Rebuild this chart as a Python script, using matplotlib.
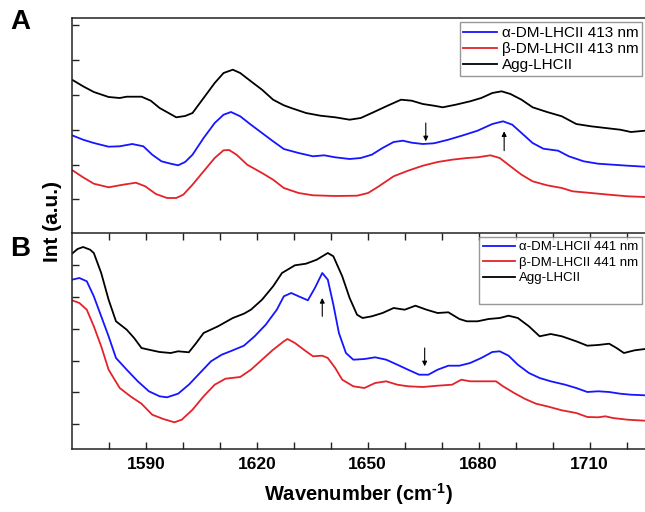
import numpy as np
import matplotlib
matplotlib.use("Agg")
import matplotlib.pyplot as plt
from matplotlib.lines import Line2D

plt.rcParams["font.family"] = ["Liberation Sans", "DejaVu Sans"]
plt.rcParams["mathtext.fontset"] = "custom"
plt.rcParams["mathtext.rm"] = "Liberation Sans:bold"
plt.rcParams["mathtext.bf"] = "Liberation Sans:bold"

# ---- panel A (413 nm excitation), intensities in a.u. ----
a_agg_wn = [1570.0, 1573.0, 1575.9, 1579.9, 1582.9, 1584.8, 1588.8, 1591.3, 1593.7, 1598.2,
            1600.6, 1602.6, 1605.6, 1608.6, 1611.0, 1613.5, 1615.5, 1618.4, 1621.4, 1624.4,
            1627.3, 1629.3, 1633.3, 1637.2, 1641.2, 1645.1, 1648.1, 1651.1, 1655.0, 1659.0,
            1661.9, 1664.9, 1667.9, 1670.3, 1673.8, 1677.7, 1680.7, 1683.7, 1686.2, 1688.6,
            1691.6, 1694.6, 1698.5, 1702.5, 1706.4, 1710.4, 1714.3, 1718.3, 1721.2, 1725.0]
a_agg_int = [153.3, 146.7, 141.0, 136.0, 135.0, 136.3, 136.3, 132.3, 125.0, 115.7,
             117.0, 120.0, 135.0, 150.0, 160.0, 163.3, 160.0, 151.7, 143.3, 133.3,
             127.7, 125.0, 120.0, 117.3, 115.7, 113.3, 115.0, 120.0, 126.7, 133.3,
             132.3, 129.0, 127.3, 125.7, 128.3, 131.7, 135.0, 140.0, 141.7, 139.0,
             133.3, 125.7, 121.0, 116.7, 109.0, 106.7, 105.0, 103.3, 101.0, 102.3]

a_alpha_wn = [1570.0, 1573.0, 1575.9, 1579.9, 1582.9, 1586.3, 1589.3, 1591.7, 1594.2, 1596.7,
              1598.7, 1600.6, 1602.6, 1605.6, 1608.6, 1611.0, 1613.0, 1615.5, 1618.4, 1621.4,
              1624.4, 1627.3, 1631.3, 1635.2, 1638.2, 1641.2, 1645.1, 1648.1, 1651.1, 1654.0,
              1657.0, 1659.5, 1661.9, 1664.9, 1667.9, 1671.8, 1675.8, 1679.7, 1683.7, 1686.6,
              1689.1, 1691.6, 1694.6, 1697.5, 1701.5, 1704.4, 1708.4, 1712.3, 1716.3, 1720.3,
              1725.0]
a_alpha_int = [97.7, 93.3, 90.0, 86.3, 86.7, 89.0, 86.7, 78.3, 71.7, 69.3,
               67.7, 71.0, 78.3, 95.0, 110.0, 118.3, 121.0, 116.7, 108.3, 100.0,
               91.7, 84.0, 80.0, 76.7, 77.7, 75.7, 74.0, 75.0, 78.3, 85.0,
               91.0, 92.3, 90.3, 89.0, 89.7, 93.3, 97.7, 102.3, 109.0, 111.7,
               108.3, 100.0, 90.0, 84.3, 82.3, 76.7, 71.7, 69.3, 68.3, 67.3,
               66.3]

a_beta_wn = [1570.0, 1573.0, 1575.9, 1579.9, 1583.8, 1587.3, 1589.8, 1592.7, 1595.7, 1598.2,
             1600.1, 1602.6, 1605.6, 1608.6, 1611.0, 1612.5, 1614.5, 1617.4, 1621.4, 1624.4,
             1627.3, 1631.3, 1635.2, 1641.2, 1647.1, 1650.1, 1653.0, 1657.0, 1660.9, 1664.9,
             1668.9, 1672.8, 1676.8, 1679.7, 1683.2, 1685.7, 1688.6, 1691.6, 1694.6, 1698.5,
             1702.5, 1705.4, 1710.4, 1715.3, 1720.3, 1725.0]
a_beta_int = [63.0, 55.7, 49.3, 45.7, 48.3, 50.3, 46.7, 39.0, 35.0, 35.0,
              38.3, 48.3, 61.7, 75.0, 82.7, 83.0, 78.3, 68.3, 60.0, 53.3,
              45.0, 40.0, 37.7, 37.0, 37.3, 40.0, 46.7, 56.7, 62.3, 67.3,
              71.0, 73.3, 75.0, 75.7, 77.7, 75.0, 66.7, 58.3, 51.7, 47.7,
              45.0, 41.7, 40.0, 38.3, 36.7, 36.0]

# ---- panel B (441 nm excitation) ----
b_agg_wn = [1570.0, 1571.5, 1573.0, 1574.9, 1575.9, 1577.9, 1579.9, 1581.9, 1584.8, 1586.8,
            1588.8, 1590.8, 1593.7, 1596.7, 1598.7, 1601.6, 1603.6, 1605.6, 1609.5, 1613.5,
            1616.5, 1618.4, 1621.4, 1624.4, 1626.8, 1630.3, 1633.3, 1636.2, 1639.2, 1640.7,
            1643.1, 1645.1, 1647.1, 1648.6, 1651.1, 1654.0, 1657.0, 1660.0, 1662.9, 1665.9,
            1668.9, 1671.8, 1674.8, 1676.8, 1679.7, 1682.7, 1685.7, 1688.1, 1690.6, 1693.6,
            1696.5, 1699.5, 1702.5, 1706.4, 1709.4, 1712.3, 1715.3, 1717.3, 1719.3, 1722.2,
            1725.0]
b_agg_int = [195.3, 200.0, 202.0, 199.3, 196.0, 176.0, 149.3, 127.7, 119.3, 111.0,
             101.0, 99.3, 97.0, 96.0, 97.7, 96.7, 106.0, 116.0, 122.7, 131.0,
             135.3, 139.3, 149.3, 162.7, 176.0, 183.7, 185.3, 189.3, 196.0, 192.7,
             172.7, 151.0, 134.3, 131.0, 132.7, 136.0, 141.0, 139.3, 143.3, 139.3,
             136.0, 136.7, 130.0, 127.7, 127.7, 130.0, 131.0, 133.3, 131.0, 122.7,
             112.7, 115.0, 112.7, 107.7, 103.3, 104.0, 105.3, 101.0, 96.0, 98.7,
             100.0]

b_alpha_wn = [1570.0, 1572.0, 1574.0, 1575.9, 1577.9, 1579.9, 1581.9, 1584.8, 1587.8, 1590.8,
              1593.7, 1595.7, 1598.7, 1601.6, 1604.6, 1607.6, 1610.5, 1613.5, 1616.5, 1619.4,
              1622.4, 1625.4, 1627.3, 1629.3, 1631.3, 1633.8, 1635.7, 1637.7, 1639.2, 1640.7,
              1642.2, 1644.1, 1646.1, 1649.1, 1652.0, 1655.0, 1658.0, 1660.9, 1663.9, 1666.4,
              1668.9, 1671.8, 1674.8, 1677.7, 1680.7, 1683.7, 1685.7, 1688.1, 1690.6, 1693.6,
              1696.5, 1699.5, 1703.4, 1706.4, 1709.4, 1712.3, 1715.3, 1718.3, 1721.2, 1725.0]
b_alpha_int = [169.3, 171.0, 167.7, 152.7, 132.7, 112.7, 91.0, 79.3, 67.7, 57.7,
               52.7, 51.7, 55.3, 64.3, 76.0, 87.7, 94.3, 98.7, 103.3, 112.7,
               124.3, 139.3, 152.7, 156.0, 152.7, 148.7, 161.0, 176.0, 169.3, 144.3,
               116.0, 96.0, 89.3, 90.0, 91.7, 89.3, 84.3, 79.3, 74.3, 74.3,
               79.3, 83.3, 83.3, 86.0, 91.0, 97.0, 97.7, 93.3, 84.3, 76.0,
               71.0, 67.7, 64.3, 61.0, 57.0, 57.7, 57.0, 55.3, 54.3, 53.7]

b_beta_wn = [1570.0, 1572.0, 1574.0, 1575.9, 1577.9, 1579.9, 1582.9, 1585.8, 1588.8, 1591.7,
             1594.7, 1597.7, 1599.7, 1602.6, 1605.6, 1608.6, 1611.5, 1615.5, 1618.4, 1621.4,
             1624.4, 1627.3, 1628.3, 1630.3, 1633.3, 1635.2, 1637.7, 1639.2, 1641.2, 1643.1,
             1646.1, 1649.1, 1652.0, 1655.0, 1658.0, 1660.9, 1664.9, 1668.9, 1672.8, 1675.3,
             1677.7, 1681.7, 1684.7, 1686.6, 1689.6, 1692.6, 1695.5, 1698.5, 1702.5, 1706.4,
             1709.4, 1712.3, 1714.3, 1716.3, 1720.3, 1725.0]
b_beta_int = [148.7, 146.0, 139.3, 122.7, 102.7, 79.3, 61.0, 52.7, 45.3, 34.3,
              30.0, 26.7, 29.3, 39.3, 52.7, 64.3, 70.3, 72.0, 79.3, 89.3,
              99.3, 107.7, 110.0, 106.0, 97.7, 92.7, 93.3, 91.0, 81.0, 69.3,
              62.7, 61.0, 66.0, 67.7, 64.3, 62.7, 62.0, 63.3, 64.3, 69.3,
              67.7, 67.7, 67.7, 62.7, 56.0, 50.0, 45.3, 42.7, 38.7, 36.0,
              32.0, 31.7, 32.7, 31.0, 29.3, 28.3]

# arrows: (wavenumber, tail, head)
a_arrows = [(1665.7, 110.0, 91.7), (1686.9, 82.3, 101.7)]
b_arrows = [(1637.7, 132.7, 151.0), (1665.4, 101.0, 82.7)]

a_ticks = [34, 68, 103, 138, 173, 208]
b_ticks = [25, 57, 88, 120, 152, 184]

blue = "#1515ff"
red = "#e3222a"

fig = plt.figure(figsize=(6.45, 5.12), dpi=100)
ax_a = fig.add_axes([72 / 645, 1 - 233 / 512, 573 / 645, 215 / 512])
ax_b = fig.add_axes([72 / 645, 1 - 449 / 512, 573 / 645, 216 / 512])


def style_axis(ax, yticks):
    ax.set_xlim(1570, 1725)
    ax.set_yticks(yticks)
    ax.set_yticklabels([])
    ax.spines["right"].set_visible(False)
    for s in ["left", "top", "bottom"]:
        ax.spines[s].set_linewidth(1.1)
        ax.spines[s].set_color("#222222")
    ax.tick_params(axis="y", direction="in", length=5, width=1, left=True, color="#222222")


def draw_arrows(ax, arrows):
    for wn, tail, head in arrows:
        ax.annotate("", xy=(wn, head), xytext=(wn, tail),
                    arrowprops=dict(arrowstyle="-|>", lw=0.8, color="black",
                                    mutation_scale=7, shrinkA=0, shrinkB=0))


# Panel A
ax_a.plot(a_alpha_wn, a_alpha_int, color=blue, lw=1.3, label="α-DM-LHCII 413 nm")
ax_a.plot(a_beta_wn, a_beta_int, color=red, lw=1.3, label="β-DM-LHCII 413 nm")
ax_a.plot(a_agg_wn, a_agg_int, color="black", lw=1.3, label="Agg-LHCII")
ax_a.set_ylim(0, 215)
style_axis(ax_a, a_ticks)
ax_a.set_xticks([])
ax_a.spines["bottom"].set_visible(False)
draw_arrows(ax_a, a_arrows)
leg_a = ax_a.legend(loc="upper right", bbox_to_anchor=(0.995, 0.981), fontsize=11,
                    frameon=True, fancybox=False, borderaxespad=0, handlelength=2.2,
                    handletextpad=0.3, labelspacing=0.15, borderpad=0.25)
leg_a.get_frame().set_edgecolor("#7f7f7f")
leg_a.get_frame().set_linewidth(1.0)

# Panel B
ax_b.plot(b_alpha_wn, b_alpha_int, color=blue, lw=1.3, label="α-DM-LHCII 441 nm")
ax_b.plot(b_beta_wn, b_beta_int, color=red, lw=1.3, label="β-DM-LHCII 441 nm")
ax_b.plot(b_agg_wn, b_agg_int, color="black", lw=1.3, label="Agg-LHCII")
ax_b.set_ylim(0, 216)
style_axis(ax_b, b_ticks)
ax_b.set_xticks(np.arange(1580, 1725, 10))
ax_b.set_xticklabels([str(t) if t % 30 == 0 else "" for t in range(1580, 1725, 10)],
                     fontsize=12.5, fontweight="bold")
ax_b.tick_params(axis="x", direction="in", length=5, width=1, top=True, pad=6,
                 color="#222222")
draw_arrows(ax_b, b_arrows)
handles, labels = ax_b.get_legend_handles_labels()
handles.append(Line2D([], [], color="none"))
labels.append(" ")
leg_b = ax_b.legend(handles, labels, loc="upper right", bbox_to_anchor=(0.995, 0.981),
                    fontsize=9.5, frameon=True, fancybox=False, borderaxespad=0,
                    handlelength=2.4, handletextpad=0.3, labelspacing=0.25, borderpad=0.3)
leg_b.get_frame().set_edgecolor("#7f7f7f")
leg_b.get_frame().set_linewidth(1.0)

ax_b.set_xlabel(r"Wavenumber (cm$^{\text{-1}}$)", fontsize=14.5, fontweight="bold",
                labelpad=6)
fig.text(53 / 645, 1 - 222 / 512, "Int (a.u.)", rotation=90, fontsize=15,
         fontweight="bold", ha="center", va="center")
fig.text(20 / 645, 1 - 22 / 512, "A", fontsize=20, fontweight="bold", ha="center", va="center")
fig.text(20 / 645, 1 - 249 / 512, "B", fontsize=20, fontweight="bold", ha="center", va="center")

fig.savefig("out.png", dpi=100)
